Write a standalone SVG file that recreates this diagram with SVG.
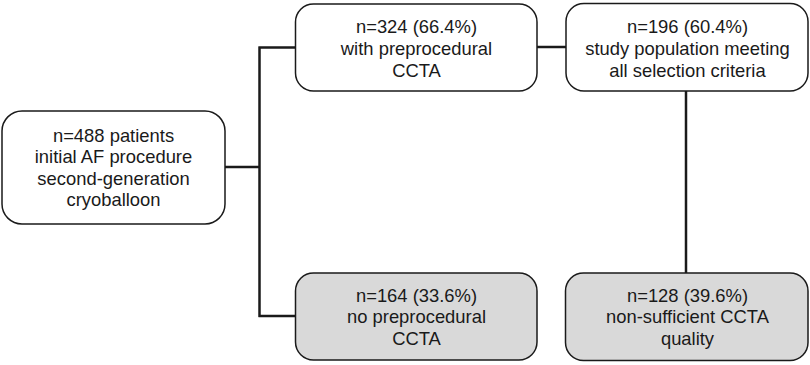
<svg xmlns="http://www.w3.org/2000/svg" width="810" height="365" viewBox="0 0 810 365">
<style>
.box{fill:#ffffff;stroke:#1a1a1a;stroke-width:1.5}
.grey{fill:#d9d9d9}
.t{font-family:"Liberation Sans",Arial,sans-serif;font-size:18.4px;fill:#1a1a1a;text-anchor:middle}
.c{fill:none;stroke:#1a1a1a;stroke-width:2.5}
</style>
<rect width="810" height="365" fill="#ffffff"/>
<g id="connectors">
<path class="c" d="M225,167 H259.5 M259.5,46.5 V317 M258.5,47.5 H295 M258.5,316 H295"/>
<path class="c" d="M537,47 H566"/>
<path class="c" d="M686,91 V273"/>
</g>
<g id="n488">
<rect class="box" x="2" y="111" width="223" height="113" rx="20"/>
<text class="t" x="113.5" y="141.5">n=488 patients</text>
<text class="t" x="113.5" y="163">initial AF procedure</text>
<text class="t" x="113.5" y="184.5">second-generation</text>
<text class="t" x="113.5" y="206">cryoballoon</text>
</g>
<g id="n324">
<rect class="box" x="295.5" y="4" width="241.5" height="87" rx="18"/>
<text class="t" x="416.5" y="32.5">n=324 (66.4%)</text>
<text class="t" x="416.5" y="54.5">with preprocedural</text>
<text class="t" x="416.5" y="76.5">CCTA</text>
</g>
<g id="n196">
<rect class="box" x="566" y="3.5" width="242" height="87.5" rx="18"/>
<text class="t" x="687.5" y="33">n=196 (60.4%)</text>
<text class="t" x="687.5" y="55">study population meeting</text>
<text class="t" x="687.5" y="77">all selection criteria</text>
</g>
<g id="n164">
<rect class="box grey" x="295.5" y="273" width="241.5" height="87" rx="18"/>
<text class="t" x="416.5" y="301.5">n=164 (33.6%)</text>
<text class="t" x="416.5" y="323">no preprocedural</text>
<text class="t" x="416.5" y="344.5">CCTA</text>
</g>
<g id="n128">
<rect class="box grey" x="565.5" y="273" width="242.5" height="87.5" rx="18"/>
<text class="t" x="687.5" y="301.5">n=128 (39.6%)</text>
<text class="t" x="687.5" y="323">non-sufficient CCTA</text>
<text class="t" x="687.5" y="344.5">quality</text>
</g>
</svg>
